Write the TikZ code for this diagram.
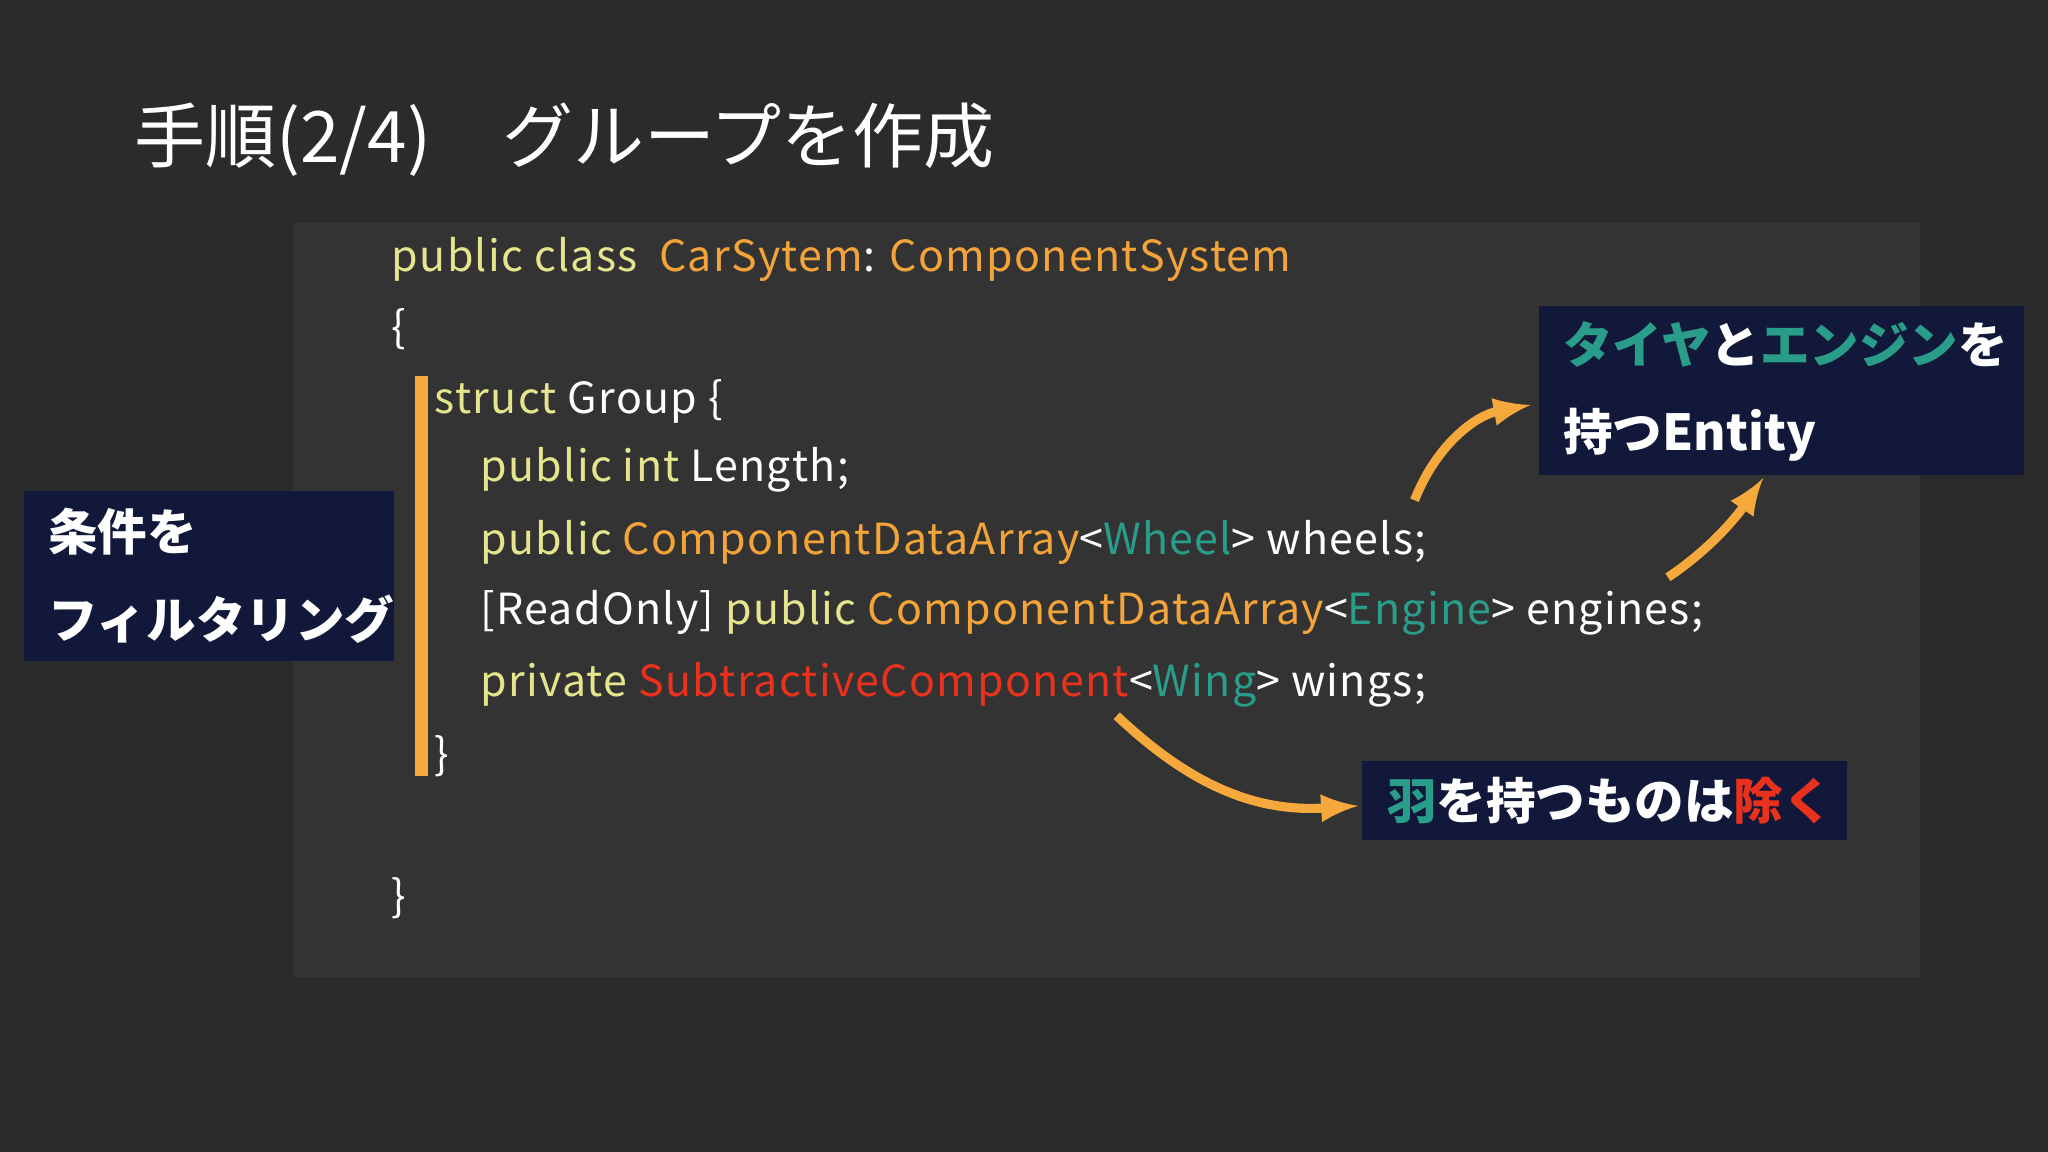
\documentclass[tikz,border=0pt]{standalone}
\usepackage{fontspec}
\setmainfont{Noto Sans CJK JP}
\newfontfamily\codefont[LetterSpace=3]{Noto Sans CJK JP}
\usetikzlibrary{calc}
\definecolor{bgc}{HTML}{2B2B2B}
\definecolor{panel}{HTML}{333333}
\definecolor{navy}{HTML}{111839}
\definecolor{kw}{HTML}{E4E58C}
\definecolor{typ}{HTML}{F2A33A}
\definecolor{gen}{HTML}{2A9D8A}
\definecolor{sub}{HTML}{E8321E}
\definecolor{arr}{HTML}{F5A83C}
\newcommand{\K}[1]{\textcolor{kw}{#1}}
\newcommand{\T}[1]{\textcolor{typ}{#1}}
\newcommand{\G}[1]{\textcolor{gen}{#1}}
\newcommand{\R}[1]{\textcolor{sub}{#1}}
\begin{document}
\begin{tikzpicture}[x=0.01306cm, y=-0.01306cm, inner sep=0pt, outer sep=0pt,
    code/.style={anchor=west, text=white, font=\codefont\fontsize{12.2}{14}\selectfont},
    label/.style={anchor=west, text=white, font=\fontsize{14.1}{17}\selectfont\bfseries},
    arrow/.style={draw=arr, line width=2.6pt, -latex}]
    % background
    \fill[bgc] (0,0) rectangle (1568,882);
    \useasboundingbox (0,0) rectangle (1568,882);
    \fill[panel] (225,171) rectangle (1470,748);
    \fill[arr] (318,288) rectangle (328,594);
    % title
    \node[anchor=west, text=white, font=\fontsize{20.2}{24}\selectfont] (title) at (103,107) {手順(2/4)　グループを作成};
    % code
    \node[code] (l1) at (300,199) {\K{public class}\ \ \T{CarSytem}: \T{ComponentSystem}};
    \node[code] (l2) at (300,252) {\{};
    \node[code] (l3) at (333,307) {\K{struct} Group \{};
    \node[code] (l4) at (368,360) {\K{public int} Length;};
    \node[code] (l5) at (368,415) {\K{public} \T{ComponentDataArray}<\G{Wheel}> wheels;};
    \node[code] (l6) at (368,469) {[ReadOnly] \K{public} \T{ComponentDataArray}<\G{Engine}> engines;};
    \node[code] (l7) at (368,524) {\K{private} \R{SubtractiveComponent}<\G{Wing}> wings;};
    \node[code] (l8) at (333,579) {\}};
    \node[code] (l9) at (300,688) {\}};
    % filter box
    \fill[navy] (18,376) rectangle (302,506);
    \node[label] (filt1) at (37,407) {条件を};
    \node[label] (filt2) at (37,474) {フィルタリング};
    % entity box
    \fill[navy] (1178,234) rectangle (1550,364);
    \node[label] (ent1) at (1197,264) {\G{タイヤ}と\G{エンジン}を};
    \node[label] (ent2) at (1197,333) {持つEntity};
    % exclude box
    \fill[navy] (1043,583) rectangle (1414,643);
    \node[label] (excl) at (1062,613) {\G{羽}を持つものは\R{除く}};
    % arrows
    \coordinate (wheelEnd) at (1083,383);
    \coordinate (engineEnd) at (1277,442);
    \coordinate (wingEnd) at (855,548);
    \coordinate (entA) at (1172,310);
    \coordinate (entB) at (1350,366);
    \coordinate (exclA) at (1040,617);
    \draw[arrow] (wheelEnd) .. controls (1100,340) and (1130,318) .. (entA);
    \draw[arrow] (engineEnd) .. controls (1310,420) and (1330,395) .. (entB);
    \draw[arrow] (wingEnd) .. controls (910,600) and (960,622) .. (exclA);
\end{tikzpicture}
\end{document}
